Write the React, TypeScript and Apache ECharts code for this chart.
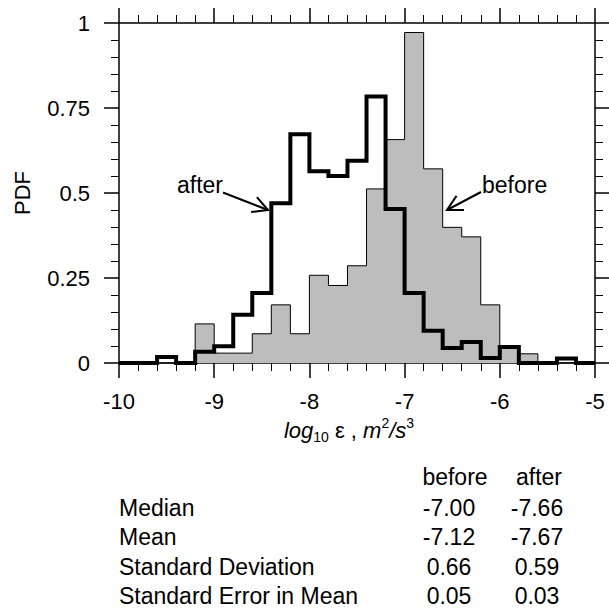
import React, { useEffect, useRef } from "react";
import * as echarts from "echarts";

// Bin edges of the histograms (log10 epsilon)
const binEdges = [
  -10, -9.8, -9.6, -9.4, -9.2, -9, -8.8, -8.6, -8.4, -8.2, -8, -7.8, -7.6,
  -7.4, -7.2, -7, -6.8, -6.6, -6.4, -6.2, -6, -5.8, -5.6, -5.4, -5.2, -5,
];

// PDF values per bin
const beforePdf = [
  0, 0, 0, 0, 0.115, 0.029, 0.029, 0.086, 0.171, 0.086, 0.258, 0.228, 0.286,
  0.512, 0.657, 0.972, 0.571, 0.399, 0.371, 0.171, 0.044, 0.027, 0, 0, 0,
];
const afterPdf = [
  0, 0, 0.018, 0, 0.033, 0.049, 0.142, 0.206, 0.47, 0.673, 0.564, 0.55, 0.595,
  0.784, 0.453, 0.206, 0.095, 0.044, 0.062, 0.015, 0.047, 0, 0, 0.013, 0,
];

const xTicks = [-10, -9, -8, -7, -6, -5];
const yTicks = [0, 0.25, 0.5, 0.75, 1];

// Summary table
const tableColumns = ["before", "after"];
const tableRows = ["Median", "Mean", "Standard Deviation", "Standard Error in Mean"];
const beforeStats = ["-7.00", "-7.12", "0.66", "0.05"];
const afterStats = ["-7.66", "-7.67", "0.59", "0.03"];

const FONT = "'Liberation Sans', Arial, Helvetica, sans-serif";

function stepData(vals: number[]) {
  const pts: number[][] = vals.map((v, i) => [binEdges[i], v]);
  pts.push([binEdges[vals.length], vals[vals.length - 1]]);
  return pts;
}

function arrow(x1: number, y1: number, x2: number, y2: number) {
  const dx = x2 - x1;
  const dy = y2 - y1;
  const len = Math.sqrt(dx * dx + dy * dy);
  const ux = -dx / len;
  const uy = -dy / len;
  const a = (28 * Math.PI) / 180;
  const L = 17;
  const r = (t: number) => [
    x2 + L * (ux * Math.cos(t) - uy * Math.sin(t)),
    y2 + L * (ux * Math.sin(t) + uy * Math.cos(t)),
  ];
  return [
    {
      type: "line",
      shape: { x1, y1, x2, y2 },
      style: { stroke: "#000", lineWidth: 2 },
    },
    {
      type: "polyline",
      shape: { points: [r(a), [x2, y2], r(-a)] },
      style: { stroke: "#000", lineWidth: 2, fill: null },
    },
  ];
}

export default function App() {
  const ref = useRef<HTMLDivElement>(null);
  useEffect(() => {
    if (!ref.current) return;
    const chart = echarts.init(ref.current, null, { renderer: "svg" });

    const axisCommon = {
      type: "value",
      axisLine: { show: true, onZero: false, lineStyle: { color: "#000", width: 1.5 } },
      axisTick: { show: true, inside: false, length: 15, lineStyle: { color: "#000", width: 1.5 } },
      minorTick: { show: true, splitNumber: 5, length: 8, lineStyle: { color: "#000", width: 1 } },
      splitLine: { show: false },
      minorSplitLine: { show: false },
    };

    const graphics: any[] = [
      {
        type: "text",
        x: 22,
        y: 193,
        rotation: Math.PI / 2,
        style: { text: "PDF", font: `22px ${FONT}`, fill: "#000", align: "center", verticalAlign: "middle" },
      },
      {
        type: "text",
        x: 349,
        y: 430,
        style: {
          text: "{i|log}{sub|10}{n| ε , }{i|m}{sup|2}{i|/s}{sup|3}",
          align: "center",
          verticalAlign: "middle",
          fill: "#000",
          rich: {
            i: { fontFamily: FONT, fontSize: 22, fontStyle: "italic", lineHeight: 28, verticalAlign: "middle", fill: "#000" },
            n: { fontFamily: FONT, fontSize: 22, lineHeight: 28, verticalAlign: "middle", fill: "#000" },
            sub: { fontFamily: FONT, fontSize: 14, lineHeight: 14, verticalAlign: "bottom", fill: "#000" },
            sup: { fontFamily: FONT, fontSize: 14, lineHeight: 14, verticalAlign: "top", fill: "#000" },
          },
        },
      },
      {
        type: "text",
        x: 177,
        y: 185,
        style: { text: "after", font: `23px ${FONT}`, fill: "#000", align: "left", verticalAlign: "middle" },
      },
      {
        type: "text",
        x: 482,
        y: 185,
        style: { text: "before", font: `23px ${FONT}`, fill: "#000", align: "left", verticalAlign: "middle" },
      },
      ...arrow(223, 192.5, 268, 210),
      ...arrow(481, 192, 447, 210),
    ];

    const headerY = 477;
    const rowY0 = 508;
    const rowStep = 29.3;
    graphics.push({
      type: "text",
      x: 455,
      y: headerY,
      style: { text: tableColumns[0], font: `23px ${FONT}`, fill: "#000", align: "center", verticalAlign: "middle" },
    });
    graphics.push({
      type: "text",
      x: 539,
      y: headerY,
      style: { text: tableColumns[1], font: `23px ${FONT}`, fill: "#000", align: "center", verticalAlign: "middle" },
    });
    tableRows.forEach((row, i) => {
      const y = rowY0 + i * rowStep;
      graphics.push({
        type: "text",
        x: 119,
        y,
        style: { text: row, font: `23px ${FONT}`, fill: "#000", align: "left", verticalAlign: "middle" },
      });
      graphics.push({
        type: "text",
        x: 449,
        y,
        style: { text: beforeStats[i], font: `23px ${FONT}`, fill: "#000", align: "center", verticalAlign: "middle" },
      });
      graphics.push({
        type: "text",
        x: 537,
        y,
        style: { text: afterStats[i], font: `23px ${FONT}`, fill: "#000", align: "center", verticalAlign: "middle" },
      });
    });

    chart.setOption({
      animation: false,
      backgroundColor: "#fff",
      grid: { left: 119, right: 14, top: 23, bottom: 248, containLabel: false },
      xAxis: [
        {
          ...axisCommon,
          position: "bottom",
          min: xTicks[0],
          max: xTicks[xTicks.length - 1],
          interval: 1,
          axisLabel: { show: true, margin: 27, fontSize: 22, color: "#000", fontFamily: FONT },
        },
        {
          ...axisCommon,
          position: "top",
          min: xTicks[0],
          max: xTicks[xTicks.length - 1],
          interval: 1,
          axisLabel: { show: false },
        },
      ],
      yAxis: [
        {
          ...axisCommon,
          position: "left",
          min: yTicks[0],
          max: yTicks[yTicks.length - 1],
          interval: 0.25,
          axisLabel: { show: true, margin: 29, fontSize: 22, color: "#000", fontFamily: FONT },
        },
        {
          ...axisCommon,
          position: "right",
          min: yTicks[0],
          max: yTicks[yTicks.length - 1],
          interval: 0.25,
          axisLabel: { show: false },
        },
      ],
      series: [
        {
          name: "before",
          type: "line",
          step: "end",
          xAxisIndex: 0,
          yAxisIndex: 0,
          data: stepData(beforePdf),
          symbol: "none",
          clip: false,
          lineStyle: { color: "#000", width: 1 },
          areaStyle: { color: "#bdbdbd", opacity: 1 },
          z: 2,
        },
        {
          name: "after",
          type: "line",
          step: "end",
          xAxisIndex: 0,
          yAxisIndex: 0,
          data: stepData(afterPdf),
          symbol: "none",
          clip: false,
          lineStyle: { color: "#000", width: 4, join: "miter" },
          z: 3,
        },
      ],
      graphic: graphics,
    });
    return () => chart.dispose();
  }, []);
  return (
    <div
      ref={ref}
      style={{ position: "fixed", left: 0, top: 0, width: 609, height: 611, background: "#fff" }}
    />
  );
}
